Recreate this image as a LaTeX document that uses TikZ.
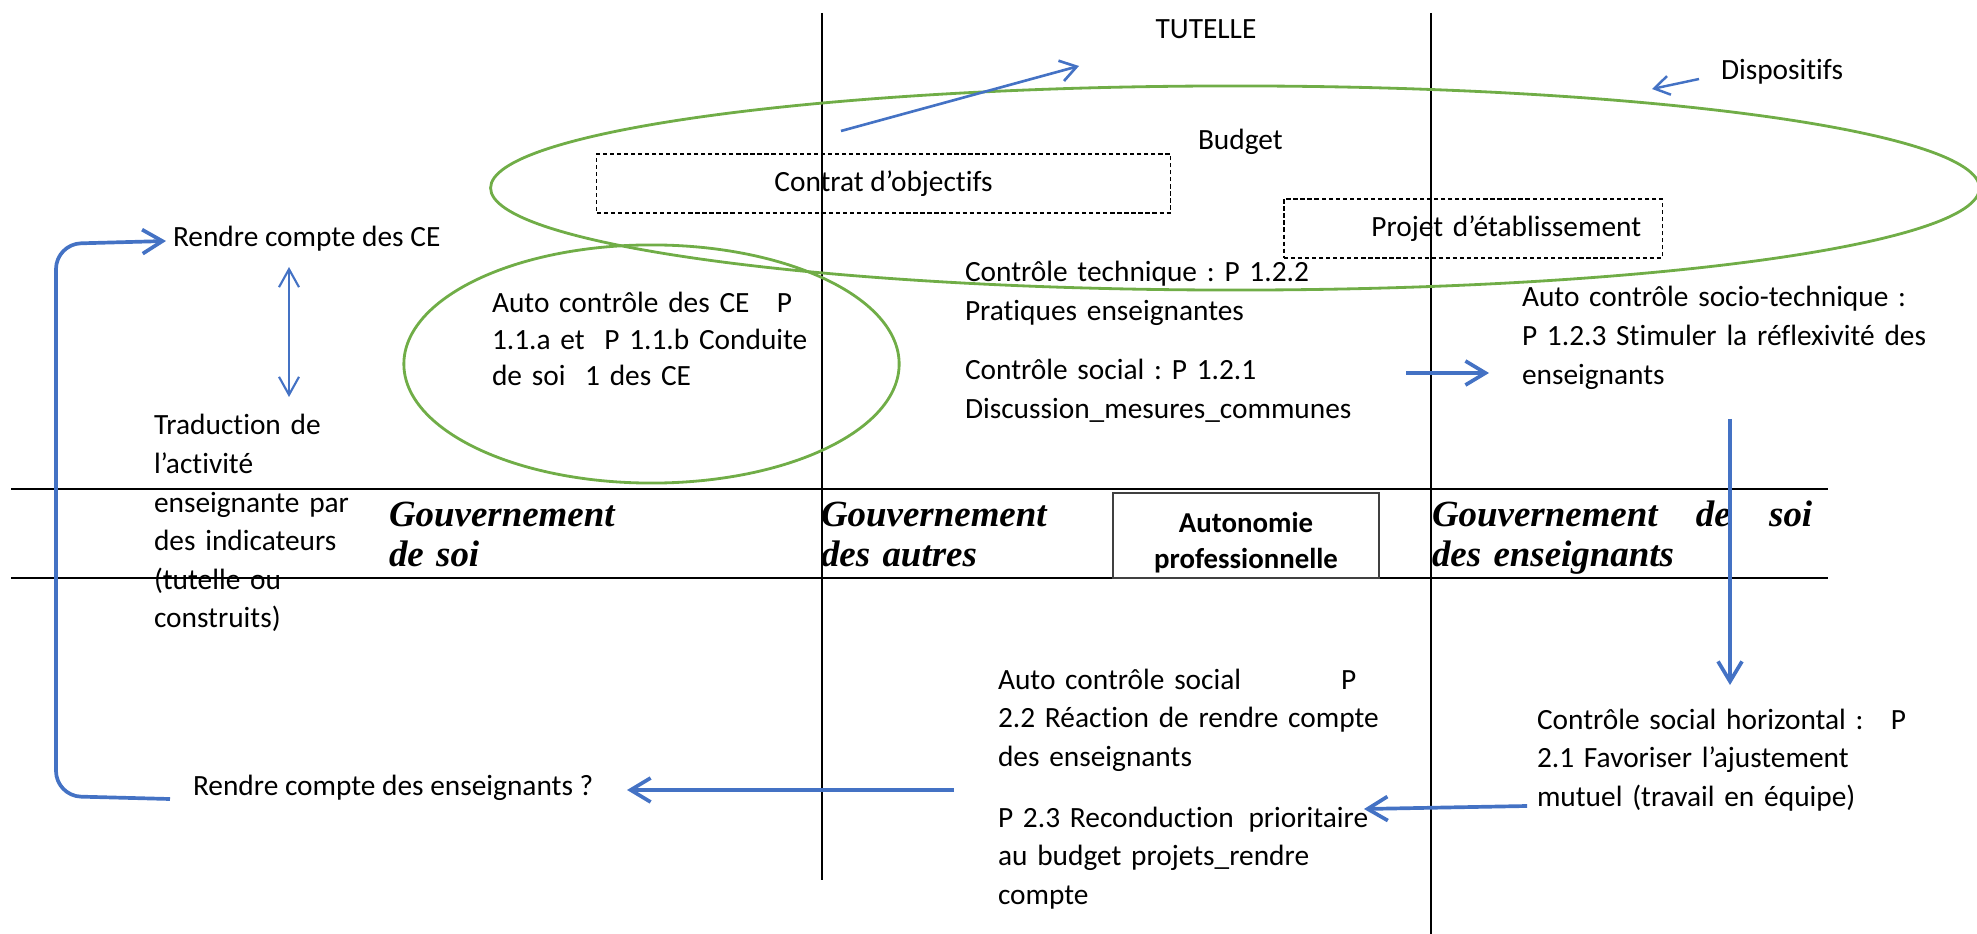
\documentclass[tikz,border=0pt]{standalone}
\usepackage{fontspec}
\setmainfont{Carlito}[Ligatures=NoCommon]
\newfontfamily\tnr{Liberation Serif}
\usetikzlibrary{arrows.meta,shapes.geometric}
\definecolor{bl}{RGB}{68,114,196}
\definecolor{gr}{RGB}{112,173,71}
\frenchspacing
\begin{document}
\begin{tikzpicture}[x=0.01cm, y=-0.01cm,
  every node/.style={inner sep=0pt, outer sep=0pt},
  txt/.style={font={\fontsize{8.35}{10.95}\selectfont}, anchor=base west, align=left},
  boldtxt/.style={font={\fontsize{8.2}{9.9}\selectfont\bfseries}, anchor=base, align=center},
  gov/.style={font={\fontsize{10.5}{11.62}\selectfont\tnr\bfseries\itshape}, anchor=base west, align=left, text width=5cm},
  dashbox/.style={draw=black, line width=0.35pt, dash pattern=on 1.2pt off 0.8pt,
    font={\fontsize{8.35}{10.95}\selectfont}},
  greenell/.style={draw=gr, line width=0.8pt, ellipse},
  hline/.style={line width=0.7pt, black},
  vline/.style={line width=0.45pt, black},
  bthick/.style={draw=bl, line width=1.05pt, -{Straight Barb[length=0.2cm, width=0.24cm]}},
  bmed/.style={draw=bl, line width=0.75pt, -{Straight Barb[length=0.16cm, width=0.21cm]}},
  bthin/.style={draw=bl, line width=0.6pt}
]
\useasboundingbox (0,0) rectangle (1977,934);

% grid lines
\draw[vline] (822,13) -- (822,880);
\draw[vline] (1431,13) -- (1431,934);
\draw[hline] (11,489) -- (1828,489);
\draw[hline] (11,578) -- (1828,578);

% ellipses
\node[greenell, minimum width=14.88cm, minimum height=2.04cm] (bigell) at (1235,188) {};
\node[greenell, minimum width=4.95cm, minimum height=2.38cm] (smallell) at (651.5,364) {};

% boxes
\node[dashbox, minimum width=5.73cm, minimum height=0.59cm] (co) at (883.5,183.5) {Contrat d’objectifs};
\node[dashbox, minimum width=3.78cm, minimum height=0.59cm, text width=3.36cm, align=right, inner xsep=0.21cm] (pe) at (1473,228.5) {Projet d’établissement};
\node[draw=black!75, line width=0.45pt, minimum width=2.66cm, minimum height=0.85cm] (autbox) at (1246,535.5) {};
\node[boldtxt, text width=2.6cm] (aut) at (1246,532) {Autonomie\\[0.5pt]professionnelle};

% texts
\node[txt, anchor=base] (tut) at (1206,39) {TUTELLE};
\node[txt] (disp) at (1721,80) {Dispositifs};
\node[txt] (bud) at (1198,150) {Budget};
\node[txt] (rce) at (173,247) {Rendre compte des CE};
\node[txt, text width=5cm, font={\fontsize{8.35}{10.35}\selectfont}] (ace) at (492,313) {\hbox to 3.0cm{Auto contrôle des CE\hfill P}\\1.1.a et\ \ P 1.1.b Conduite\\de soi\ \ 1 des CE};
\node[txt, text width=3cm] (trad) at (154,435) {Traduction de\\l’activité\\enseignante par\\des indicateurs\\(tutelle ou\\construits)};
\node[txt, text width=5cm] (ct) at (965,282) {Contrôle technique : P 1.2.2\\Pratiques enseignantes};
\node[txt, text width=5cm] (cs) at (965,380) {Contrôle social : P 1.2.1\\Discussion\_mesures\_communes};
\node[txt, text width=5cm] (acst) at (1522,307) {Auto contrôle socio-technique :\\P 1.2.3 Stimuler la réflexivité des\\enseignants};
\node[txt, text width=5cm] (csh) at (1537,729) {\hbox to 3.69cm{Contrôle social horizontal :\hfill P}\\2.1 Favoriser l’ajustement\\mutuel (travail en équipe)};
\node[txt, text width=5cm] (acs) at (998,689) {\hbox to 3.58cm{Auto contrôle social\hfill P}\\2.2 Réaction de rendre compte\\des enseignants};
\node[txt, text width=5cm] (rec) at (998,827) {\hbox to 3.70cm{P 2.3 Reconduction\hfill prioritaire}\\au budget projets\_rendre\\compte};
\node[txt] (rcens) at (193,795) {Rendre compte des enseignants ?};

% Gouvernement labels
\node[gov] (g1) at (389,526) {Gouvernement\\de soi};
\node[gov] (g2) at (821,526) {Gouvernement\\des autres};
\node[gov] (g3) at (1432,526) {\hbox to 3.80cm{Gouvernement\hfill de\hfill soi}\\des enseignants};

% arrow coordinates
\coordinate (d1) at (841,131);
\coordinate (d2) at (1079,66);
\coordinate (p1) at (1699,79);
\coordinate (p2) at (1652,89);
\coordinate (v1) at (289,267);
\coordinate (v2) at (289,397);
\coordinate (r1) at (1406,373);
\coordinate (r2) at (1489,373);
\coordinate (dn1) at (1730,419);
\coordinate (dn2) at (1730,685);
\coordinate (l1) at (1527,806);
\coordinate (l2) at (1364,809);
\coordinate (m1) at (954,790);
\coordinate (m2) at (627,790);
\coordinate (br1) at (170,799);
\coordinate (br2) at (166,241);

% arrows
\draw[bmed] (d1) -- (d2);
\draw[bthin, line width=0.7pt, -{Straight Barb[length=0.15cm, width=0.19cm]}] (p1) -- (p2);
\draw[bthin, {Straight Barb[length=0.18cm, width=0.2cm]}-{Straight Barb[length=0.18cm, width=0.2cm]}] (v1) -- (v2);
\draw[bthick] (r1) -- (r2);
\draw[bthick] (dn1) -- (dn2);
\draw[bthick] (l1) -- (l2);
\draw[bthick] (m1) -- (m2);
\draw[bthick, rounded corners=0.25cm] (br1) -- (56,796) -- (56,244) -- (br2);
\end{tikzpicture}
\end{document}
